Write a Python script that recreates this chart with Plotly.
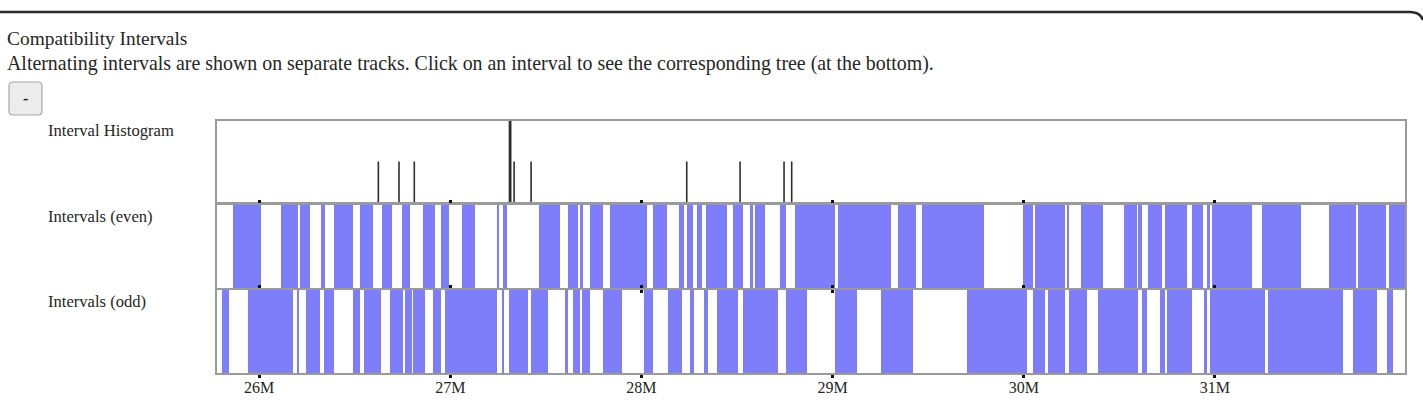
import plotly.graph_objects as go

W, H = 1423, 402

# ---------------- data (positions in Mb) ----------------
even_start = [25.862, 26.115, 26.214, 26.323, 26.392, 26.528, 26.642, 26.746, 26.859, 26.952,
              27.060, 27.246, 27.275, 27.464, 27.618, 27.679, 27.731, 27.836, 28.059, 28.197,
              28.240, 28.292, 28.338, 28.481, 28.568, 28.594, 28.725, 28.803, 29.030, 29.341,
              29.466, 29.994, 30.059, 30.224, 30.299, 30.524, 30.599, 30.651, 30.739, 30.878,
              30.957, 30.983, 31.244, 31.598, 31.750, 31.910]
even_end = [26.009, 26.206, 26.267, 26.345, 26.493, 26.595, 26.694, 26.790, 26.921, 26.995,
            27.130, 27.257, 27.296, 27.574, 27.670, 27.696, 27.798, 28.031, 28.135, 28.223,
            28.271, 28.315, 28.449, 28.533, 28.582, 28.646, 28.756, 29.013, 29.304, 29.436,
            29.792, 30.050, 30.216, 30.238, 30.413, 30.591, 30.617, 30.721, 30.852, 30.939,
            30.974, 31.192, 31.448, 31.736, 31.894, 32.000]

odd_start = [25.805, 25.944, 26.197, 26.246, 26.340, 26.490, 26.549, 26.685, 26.764, 26.807,
             26.912, 26.973, 27.269, 27.309, 27.421, 27.600, 27.644, 27.688, 27.798, 28.015,
             28.138, 28.254, 28.327, 28.397, 28.530, 28.756, 29.013, 29.252, 29.705, 30.050,
             30.128, 30.238, 30.390, 30.617, 30.712, 30.751, 30.943, 30.974, 31.279, 31.720,
             31.898]
odd_end = [25.845, 26.176, 26.211, 26.319, 26.392, 26.528, 26.637, 26.752, 26.799, 26.868,
           26.950, 27.246, 27.283, 27.408, 27.513, 27.618, 27.679, 27.731, 27.897, 28.059,
           28.211, 28.275, 28.350, 28.507, 28.716, 28.868, 29.126, 29.419, 30.015, 30.111,
           30.216, 30.329, 30.599, 30.646, 30.739, 30.878, 30.957, 31.262, 31.671, 31.846,
           31.933]

hist_pos = [26.624, 26.732, 26.812, 27.313, 27.334, 27.423, 28.237, 28.516, 28.746, 28.786]
hist_count = [1, 1, 1, 2, 1, 1, 1, 1, 1, 1]

tick_vals = [26, 27, 28, 29, 30, 31]
tick_labels = ["26M", "27M", "28M", "29M", "30M", "31M"]
track_labels = ["Interval Histogram", "Intervals (even)", "Intervals (odd)"]
title_text = "Compatibility Intervals"
subtitle_text = ("Alternating intervals are shown on separate tracks. "
                 "Click on an interval to see the corresponding tree (at the bottom).")
x_range = [25.780, 31.994]

# ---------------- helpers ----------------
def px(p):
    return p / W


def py(p):
    return 1 - p / H


FONT = "Liberation Serif, Times New Roman, serif"
BLUE = "#7e7efb"
BORDER = "#9a9a9a"
TXT = "#262626"

fig = go.Figure()


def add_track(starts, ends, xa, ya):
    mids = [(s + e) / 2 for s, e in zip(starts, ends)]
    widths = [e - s for s, e in zip(starts, ends)]
    fig.add_trace(go.Bar(
        x=mids, y=[1] * len(mids), width=widths, base=0,
        marker=dict(color=BLUE, line=dict(width=0)),
        xaxis=xa, yaxis=ya, hoverinfo="skip", showlegend=False))


add_track(even_start, even_end, "x2", "y2")
add_track(odd_start, odd_end, "x3", "y3")

for c in sorted(set(hist_count)):
    xs, ys = [], []
    for p, n in zip(hist_pos, hist_count):
        if n == c:
            xs += [p, p, None]
            ys += [0, n, None]
    fig.add_trace(go.Scatter(
        x=xs, y=ys, mode="lines",
        line=dict(color="#2e2e2e", width=1.6 if c == 1 else 2.8),
        xaxis="x", yaxis="y", hoverinfo="skip", showlegend=False))

xdom = [px(217), px(1405)]
common_x = dict(domain=xdom, range=x_range, showgrid=False, zeroline=False,
                showline=True, linecolor=BORDER, linewidth=2, fixedrange=True,
                tickvals=tick_vals)
common_y = dict(showgrid=False, zeroline=False, showticklabels=False,
                showline=True, mirror=True, linecolor=BORDER, linewidth=2,
                fixedrange=True, ticks="")

fig.update_layout(
    width=W, height=H, autosize=False,
    margin=dict(l=0, r=0, t=0, b=0),
    paper_bgcolor="white", plot_bgcolor="white",
    barmode="overlay", bargap=0,
    showlegend=False,
    xaxis=dict(**common_x, anchor="y", mirror=True, ticks="", showticklabels=False),
    yaxis=dict(**common_y, domain=[py(202), py(121)], range=[0, 2], anchor="x"),
    xaxis2=dict(**common_x, anchor="y2", matches="x", mirror="ticks", ticks="outside",
                ticklen=3, tickwidth=3, tickcolor="#111", showticklabels=False),
    yaxis2=dict(**common_y, domain=[py(288), py(205)], range=[0, 1], anchor="x2"),
    xaxis3=dict(**common_x, anchor="y3", matches="x", mirror="ticks", ticks="outside",
                ticklen=3, tickwidth=3, tickcolor="#111", showticklabels=True,
                ticktext=tick_labels, ticklabelstandoff=-4,
                tickfont=dict(family=FONT, size=16, color=TXT)),
    yaxis3=dict(**common_y, domain=[py(373), py(290)], range=[0, 1], anchor="x3"),
)

annotations = [
    dict(text=title_text, x=px(5), y=py(39), size=19.4),
    dict(text=subtitle_text, x=px(5), y=py(64), size=19.9),
    dict(text=track_labels[0], x=px(45.5), y=py(130), size=16.6),
    dict(text=track_labels[1], x=px(45.5), y=py(216), size=16.6),
    dict(text=track_labels[2], x=px(45.5), y=py(301), size=16.6),
]
for a in annotations:
    fig.add_annotation(text=a["text"], x=a["x"], y=a["y"], xref="paper", yref="paper",
                       xanchor="left", yanchor="middle", showarrow=False,
                       font=dict(family=FONT, size=a["size"], color=TXT))

# panel border (top edge with rounded right corner)
fig.add_shape(type="path", xref="paper", yref="paper",
              path=f"M {px(-5)},{py(12)} L {px(1410)},{py(12)} Q {px(1420)},{py(12)} {px(1423)},{py(20)}",
              line=dict(color="#2a2a2a", width=2.5))

# "-" button
bx0, bx1, by0, by1, r = 9, 42, 82, 115, 4
bpath = (f"M {px(bx0 + r)},{py(by0)} L {px(bx1 - r)},{py(by0)} "
         f"Q {px(bx1)},{py(by0)} {px(bx1)},{py(by0 + r)} L {px(bx1)},{py(by1 - r)} "
         f"Q {px(bx1)},{py(by1)} {px(bx1 - r)},{py(by1)} L {px(bx0 + r)},{py(by1)} "
         f"Q {px(bx0)},{py(by1)} {px(bx0)},{py(by1 - r)} L {px(bx0)},{py(by0 + r)} "
         f"Q {px(bx0)},{py(by0)} {px(bx0 + r)},{py(by0)} Z")
fig.add_shape(type="path", xref="paper", yref="paper", path=bpath,
              fillcolor="#ececec", line=dict(color="#a8a8a8", width=1.2))
fig.add_annotation(text="<b>-</b>", x=px(25.5), y=py(98), xref="paper", yref="paper",
                   showarrow=False, xanchor="center", yanchor="middle",
                   font=dict(family=FONT, size=16, color="#222"))

fig.write_html("out.html")
